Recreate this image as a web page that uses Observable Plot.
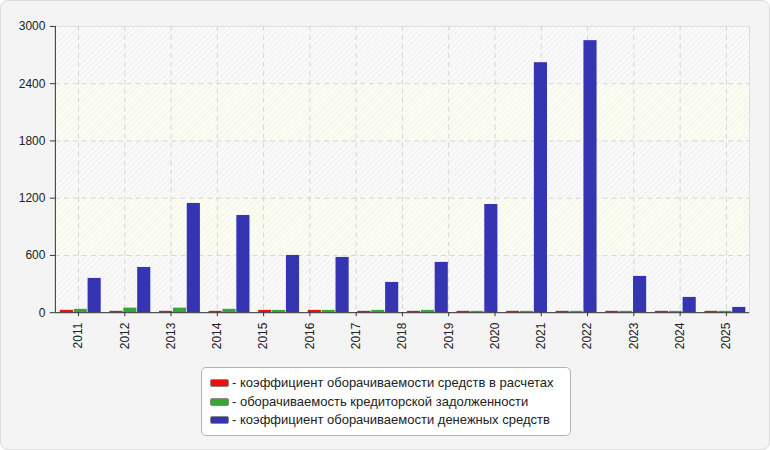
<!DOCTYPE html>
<html><head><meta charset="utf-8">
<script src="https://cdn.jsdelivr.net/npm/d3@7"></script>
<script src="https://cdn.jsdelivr.net/npm/@observablehq/plot@0.6"></script>
<style>
html,body{margin:0;padding:0;background:#fff;}
#wrap{position:relative;width:768px;height:448px;background:#f4f4f4;border:1px solid #dcdcdc;border-radius:8px;overflow:hidden;font-family:"Liberation Sans",Arial,sans-serif;}
#legend{position:absolute;left:200px;top:366px;width:356px;height:55px;padding:6px 4px 6px 8px;background:#fff;border:1px solid #b4b4b4;border-radius:5px;font-size:13px;color:#222;line-height:18.5px;}
#legend .row{display:flex;align-items:center;white-space:nowrap;}
#legend .sw{display:inline-block;width:17px;height:6px;border:1px solid #888;border-radius:2px;margin-right:3px;}
</style></head>
<body><div id="wrap"><div id="chart"></div><div id="legend"></div></div>
<script>
const years = ["2011","2012","2013","2014","2015","2016","2017","2018","2019","2020","2021","2022","2023","2024","2025"];
const redValues = [24,14,14,14,24,24,14,14,14,14,14,14,14,14];
const greenValues = [35,48,48,35,24,24,24,24,14,14,14,14,14,14];
const blueValues = [359,474,1145,1019,600,579,317,527,1134,2620,2851,380,160,55];
const seriesNames = [
  "коэффициент оборачиваемости средств в расчетах",
  "оборачиваемость кредиторской задолженности",
  "коэффициент оборачиваемости денежных средств"
];
const seriesColors = ["#f20d0d","#33a833","#3535b3"];
const yTicks = [0,600,1200,1800,2400,3000];
const bands = [[600,1200],[1800,2400]];

const groups = redValues.length;
const rows = [];
[redValues, greenValues, blueValues].forEach((arr, s) => arr.forEach((v, i) => rows.push({i, s, v})));
const off = 0.1, step = 0.28, bw = 0.265;
// label ticks spread evenly over the same width (as in the original)
const tickPos = years.map((_, k) => (k + 0.5) * groups / years.length);

const plot = Plot.plot({
  width: 770, height: 360,
  marginLeft: 54, marginRight: 20, marginTop: 25, marginBottom: 48,
  style: {background: "transparent", fontFamily: "Liberation Sans, Arial, sans-serif", fontSize: "12px", color: "#222"},
  x: {type: "linear", domain: [0, groups], axis: null, label: null},
  y: {domain: [0, 3000], axis: null, label: null},
  color: {type: "ordinal", domain: [0,1,2], range: seriesColors},
  marks: [
    Plot.frame({fill: "#f9f9f9"}),
    Plot.rectY(bands, {x1: 0, x2: groups, y1: d => d[0], y2: d => d[1], fill: "#fcfdf2"}),
    Plot.frame({fill: "url(#hatch)"}),
    Plot.gridY(yTicks.slice(1, -1), {stroke: "#d6d6d6", strokeOpacity: 1, strokeDasharray: "5,4"}),
    Plot.gridX(tickPos, {stroke: "#d6d6d6", strokeOpacity: 1, strokeDasharray: "5,4"}),
    Plot.frame({stroke: "#dddddd"}),
    Plot.rectY(rows, {
      x1: d => d.i + off + d.s * step,
      x2: d => d.i + off + d.s * step + bw,
      y1: 0, y2: "v", fill: d => d.s
    }),
    Plot.axisY(yTicks, {tickSize: 5, tickPadding: 5, stroke: "#333", fontSize: 12, fill: "#222", label: null, tickFormat: d => String(d)}),
    Plot.axisX(tickPos, {tickSize: 4, tickPadding: 6, tickRotate: -90, tickFormat: (d, k) => years[k], stroke: "#333", fontSize: 12, fill: "#222", label: null}),
    Plot.ruleX([0], {stroke: "#333"}),
    Plot.ruleY([0], {stroke: "#333"})
  ]
});
// hatch pattern defs
const ns = "http://www.w3.org/2000/svg";
const defs = document.createElementNS(ns, "defs");
defs.innerHTML = '<pattern id="hatch" width="4" height="4" patternUnits="userSpaceOnUse" patternTransform="rotate(45)"><line x1="0" y1="0" x2="0" y2="4" stroke="rgba(0,0,0,0.045)" stroke-width="1.5"/></pattern>';
plot.insertBefore(defs, plot.firstChild);
document.getElementById("chart").appendChild(plot);

const legend = document.getElementById("legend");
seriesNames.forEach((name, s) => {
  const row = document.createElement("div");
  row.className = "row";
  const sw = document.createElement("span");
  sw.className = "sw";
  sw.style.background = seriesColors[s];
  row.appendChild(sw);
  row.appendChild(document.createTextNode("- " + name));
  legend.appendChild(row);
});
</script></body></html>
